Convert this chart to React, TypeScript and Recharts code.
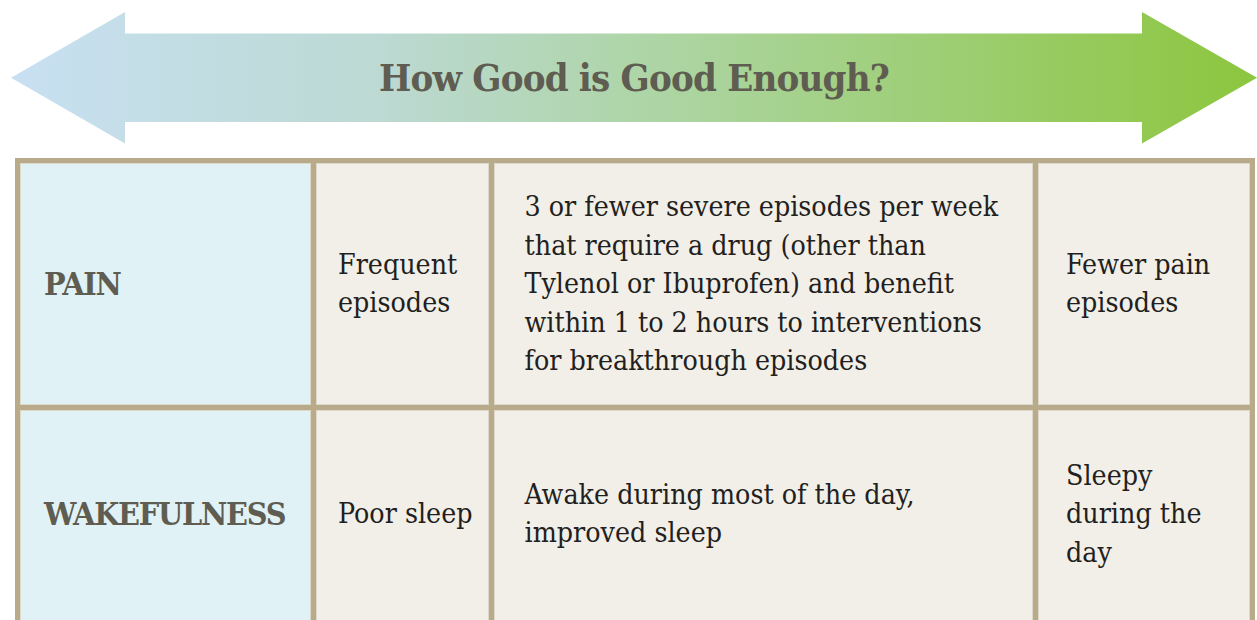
import { ComposedChart, XAxis, YAxis, ReferenceArea } from "recharts";

// chart content
const TITLE = "How Good is Good Enough?";
const ROWS = ["PAIN", "WAKEFULNESS"];
const LEVEL_LOW: string[][] = [["Frequent", "episodes"], ["Poor sleep"]];
const LEVEL_TARGET: string[][] = [
  [
    "3 or fewer severe episodes per week",
    "that require a drug (other than",
    "Tylenol or Ibuprofen) and benefit",
    "within 1 to 2 hours to interventions",
    "for breakthrough episodes",
  ],
  ["Awake during most of the day,", "improved sleep"],
];
const LEVEL_HIGH: string[][] = [["Fewer pain", "episodes"], ["Sleepy", "during the", "day"]];

// layout
const W = 1257;
const H = 632;
const COL_EDGES = [17.5, 313.5, 491.5, 1035.5, 1252.5];
const COL_PAD = [26.5, 24.5, 33, 30.5];
const ROW_EDGES = [160.5, 407.5, 628];
const ROW_MID = [284, 514];
const LINE_H = 38.5;
const ARROW = { x1: 11, x2: 1257, y1: 12, y2: 143.5, shaftTop: 33.5, shaftBottom: 122, head: 114 };

const BORDER = "#b9aa89";
const LABEL_BG = "#e0f2f5";
const CELL_BG = "#f2efe9";
const LABEL_COLOR = "#5f5c51";
const TEXT_COLOR = "#231f20";
const BODY_FONT = "'DejaVu Serif Condensed', 'DejaVu Serif', serif";

type ShapeProps = { x?: number; y?: number; width?: number; height?: number };

function arrowShape(p: ShapeProps) {
  const x = p.x ?? 0;
  const y = p.y ?? 0;
  const w = p.width ?? 0;
  const h = p.height ?? 0;
  const mid = y + h / 2;
  const st = ARROW.shaftTop;
  const sb = ARROW.shaftBottom;
  const hl = x + ARROW.head;
  const hr = x + w - ARROW.head - 1;
  const pts = [
    [x, mid],
    [hl, y],
    [hl, st],
    [hr, st],
    [hr, y],
    [x + w, mid],
    [hr, y + h],
    [hr, sb],
    [hl, sb],
    [hl, y + h],
  ]
    .map((q) => q.join(","))
    .join(" ");
  return (
    <g>
      <defs>
        <linearGradient id="arrowGrad" x1="0" y1="0" x2="1" y2="0">
          <stop offset="0" stopColor="#c8e0f2" />
          <stop offset="0.3" stopColor="#bcd9d2" />
          <stop offset="0.55" stopColor="#abd49e" />
          <stop offset="1" stopColor="#8cc63e" />
        </linearGradient>
      </defs>
      <polygon points={pts} fill="url(#arrowGrad)" />
      <text
        x={x + w / 2}
        y={mid + 13}
        textAnchor="middle"
        fontFamily={BODY_FONT}
        fontWeight="bold"
        fontSize={38}
        letterSpacing={-0.8}
        fill={LABEL_COLOR}
      >
        {TITLE}
      </text>
    </g>
  );
}

function cellShape(lines: string[], col: number, row: number, bold: boolean) {
  return (p: ShapeProps) => {
    const x = p.x ?? 0;
    const y = p.y ?? 0;
    const w = p.width ?? 0;
    const h = p.height ?? 0;
    const n = lines.length;
    return (
      <g>
        <rect x={x} y={y} width={w} height={h} fill={col === 0 ? LABEL_BG : CELL_BG} stroke={BORDER} strokeWidth={5} />
        <rect x={x + 3} y={y + 3} width={w - 6} height={h - 6} fill="none" stroke="#dcd8cc" strokeWidth={1} />
        <text
          fontFamily={BODY_FONT}
          fontWeight={bold ? "bold" : "normal"}
          fontSize={bold ? 32 : 28.3}
          letterSpacing={bold ? -1.2 : 0}
          fill={bold ? LABEL_COLOR : TEXT_COLOR}
        >
          {lines.map((s, i) => (
            <tspan key={i} x={x + COL_PAD[col]} y={ROW_MID[row] + (bold ? 11 : 9) + (i - (n - 1) / 2) * LINE_H}>
              {s}
            </tspan>
          ))}
        </text>
      </g>
    );
  };
}

export default function App() {
  const columns = [ROWS.map((r) => [r]), LEVEL_LOW, LEVEL_TARGET, LEVEL_HIGH];
  return (
    <div style={{ position: "absolute", left: 0, top: 0, width: W, height: 620, overflow: "hidden", background: "#fff" }}>
      <ComposedChart width={W} height={H} data={[]} margin={{ top: 0, right: 0, bottom: 0, left: 0 }}>
        <XAxis type="number" dataKey="x" domain={[0, W]} hide allowDataOverflow />
        <YAxis type="number" dataKey="y" domain={[0, H]} reversed hide allowDataOverflow />
        <ReferenceArea
          x1={ARROW.x1}
          x2={ARROW.x2}
          y1={ARROW.y1}
          y2={ARROW.y2}
          ifOverflow="visible"
          shape={arrowShape}
        />
        {columns.map((cells, c) =>
          cells.map((lines, r) => (
            <ReferenceArea
              key={`${c}-${r}`}
              x1={COL_EDGES[c]}
              x2={COL_EDGES[c + 1]}
              y1={ROW_EDGES[r]}
              y2={ROW_EDGES[r + 1]}
              ifOverflow="visible"
              shape={cellShape(lines, c, r, c === 0)}
            />
          ))
        )}
      </ComposedChart>
    </div>
  );
}
